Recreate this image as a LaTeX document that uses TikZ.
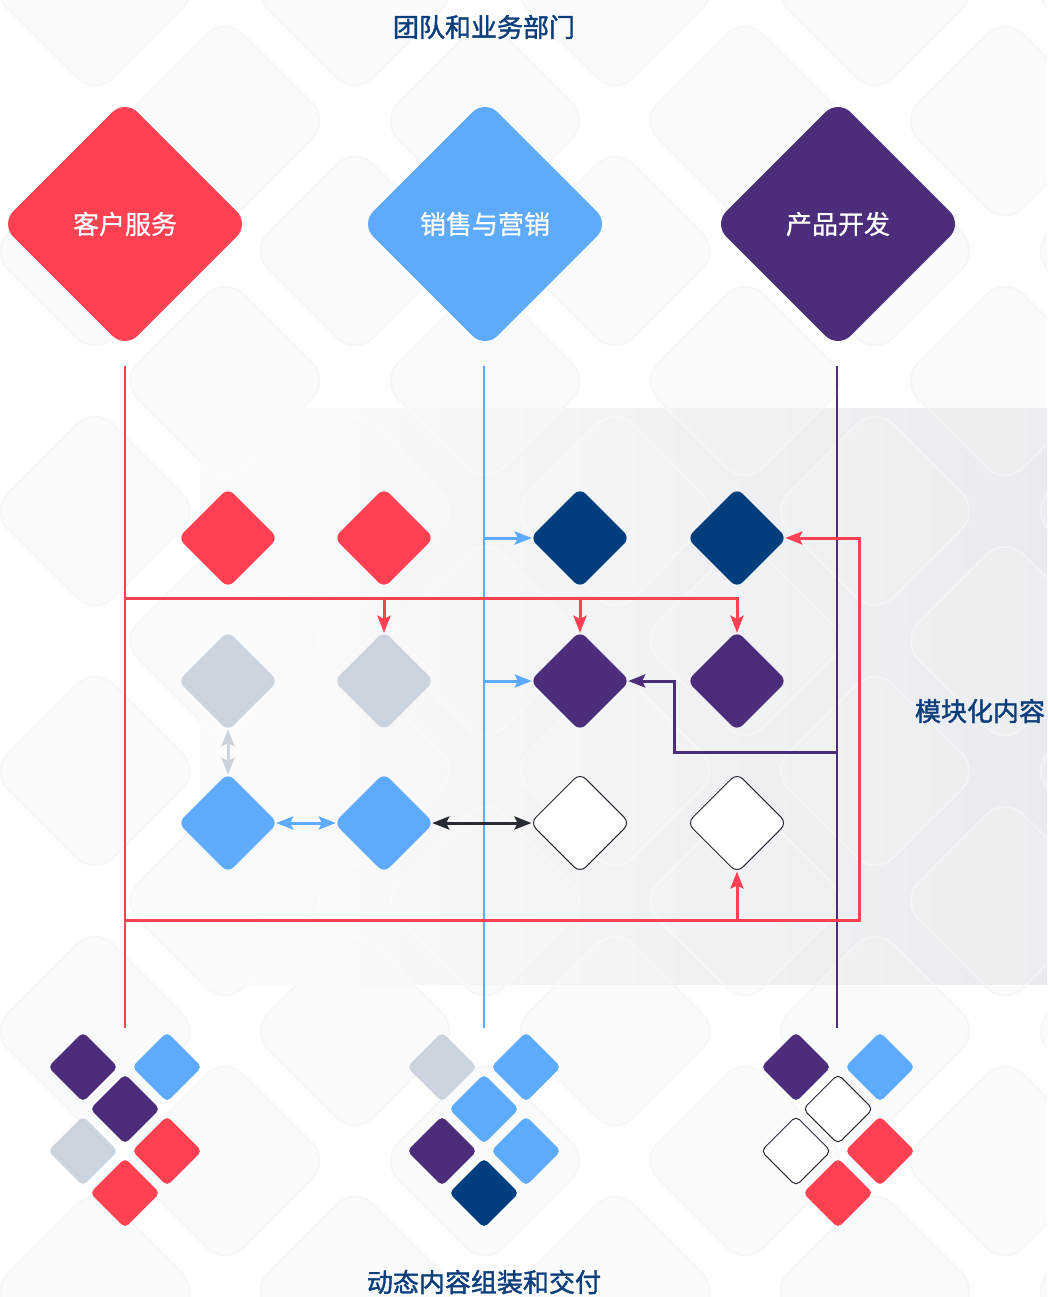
\documentclass[tikz,border=0pt]{standalone}
\usepackage{fontspec}
\newfontfamily\cjkhead[FakeBold=1.6]{Noto Sans CJK SC}
\newfontfamily\cjklab[FakeBold=0.8]{Noto Sans CJK SC}
\usetikzlibrary{shapes.geometric,arrows.meta}
\definecolor{cred}{HTML}{FF4151}
\definecolor{cblue}{HTML}{5EABFE}
\definecolor{cpurple}{HTML}{4B2D7B}
\definecolor{cnavy}{HTML}{023E7D}
\definecolor{cgray}{HTML}{CBD3DD}
\definecolor{ctext}{HTML}{0D3E7B}
\definecolor{cdark}{HTML}{252A33}
\definecolor{bgfill}{HTML}{FAFBFD}
\definecolor{bgline}{HTML}{F6F7F9}
\definecolor{bandmid}{HTML}{F4F5F7}
\definecolor{bandright}{HTML}{E8EBF0}
\begin{document}
\begin{tikzpicture}[x=1pt,y=-1pt,
  >={Stealth[length=17pt,width=13pt,inset=3pt]},
  bigdia/.style={shape=diamond, aspect=1, inner sep=0pt, minimum size=249pt,
    rounded corners=18pt, text=white, font=\cjklab\fontsize{26}{30}\selectfont},
  smalldia/.style={shape=diamond, aspect=1, inner sep=0pt, minimum size=100pt, rounded corners=8pt},
  tinydia/.style={shape=diamond, aspect=1, inner sep=0pt, minimum size=70pt, rounded corners=5pt},
  hollow/.style={fill=white, draw=cdark, line width=1pt},
  heading/.style={text=ctext, font=\cjkhead\fontsize{26}{30}\selectfont},
  bgdia/.style={fill=bgfill, draw=bgline, line width=2pt, rounded corners=26pt},
  banddia/.style={draw=white, draw opacity=0.35, line width=2pt, fill=white, fill opacity=0.14, rounded corners=26pt},
  rline/.style={draw=cred, line width=3pt},
  bline/.style={draw=cblue, line width=3pt},
  pline/.style={draw=cpurple, line width=3pt},
  kline/.style={draw=cdark, line width=3pt},
  gline/.style={draw=cgray, line width=3pt},
]
\useasboundingbox (0,0) rectangle (1047,1297);
\clip (0,0) rectangle (1047,1297);
\fill[white] (0,0) rectangle (1047,1297);

% faint background lattice
\foreach \j in {0,...,10}{
  \pgfmathtruncatemacro\off{mod(\j,2)*130}
  \foreach \i in {0,...,4}{
    \path[bgdia] ({95+\off+260*\i},{-9+130*\j-105}) -- ++(105,105) -- ++(-105,105) -- ++(-105,-105) -- cycle;
  }
}

% band of modular content (gradient made of strips)
\foreach \k in {0,...,35}{
  \pgfmathtruncatemacro\pc{100*(\k/35)^1.5}
  \fill[bandmid!\pc!bgfill] ({200+8*\k},408) rectangle ({208.6+8*\k},985);
}
\foreach \k in {0,...,70}{
  \pgfmathtruncatemacro\pc{100*\k/70}
  \fill[bandright!\pc!bandmid] ({484+8*\k},408) rectangle ({492.6+8*\k},985);
}
\begin{scope}
  \clip (200,408) rectangle (1047,985);
  \foreach \j in {3,...,8}{
    \pgfmathtruncatemacro\off{mod(\j,2)*130}
    \foreach \i in {0,...,4}{
      \path[banddia] ({95+\off+260*\i},{-9+130*\j-105}) -- ++(105,105) -- ++(-105,105) -- ++(-105,-105) -- cycle;
    }
  }
\end{scope}

% headings
\node[heading] (t1) at (484,27) {团队和业务部门};
\node[heading] (t2) at (980,711) {模块化内容};
\node[heading] (t3) at (484,1282) {动态内容组装和交付};

% departments
\node[bigdia, fill=cred] (cs) at (125,224) {客户服务};
\node[bigdia, fill=cblue] (sm) at (485,224) {销售与营销};
\node[bigdia, fill=cpurple] (pd) at (838,224) {产品开发};

% lane lines
\coordinate (rtop) at (125,366); \coordinate (rbot) at (125,1028);
\coordinate (btop) at (484,366); \coordinate (bbot) at (484,1028);
\coordinate (ptop) at (837,366); \coordinate (pbot) at (837,1028);
\draw[rline, line width=2.7pt] (rtop) -- (rbot);
\draw[bline, line width=2.7pt] (btop) -- (bbot);
\draw[pline, line width=2.7pt] (ptop) -- (pbot);

% modular content diamonds
\node[smalldia, fill=cred] (d11) at (228,538) {};
\node[smalldia, fill=cred] (d12) at (384,538) {};
\node[smalldia, fill=cnavy] (d13) at (580,538) {};
\node[smalldia, fill=cnavy] (d14) at (737,538) {};
\node[smalldia, fill=cgray] (d21) at (228,681) {};
\node[smalldia, fill=cgray] (d22) at (384,681) {};
\node[smalldia, fill=cpurple] (d23) at (580,681) {};
\node[smalldia, fill=cpurple] (d24) at (737,681) {};
\node[smalldia, fill=cblue] (d31) at (228,823) {};
\node[smalldia, fill=cblue] (d32) at (384,823) {};
\node[smalldia, hollow] (d33) at (580,823) {};
\node[smalldia, hollow] (d34) at (737,823) {};

% connectors
\coordinate (rj1) at (125,598);
\coordinate (rj3) at (125,920);
\coordinate (rc) at (859,920);
\coordinate (pj) at (837,752);
\coordinate (pk) at (674,752);

\draw[rline, ->, shorten >=-2pt] (rj1) -- (d24.north |- rj1) -- (d24.north);
\draw[rline, ->, shorten >=-2pt] (d22.north |- rj1) -- (d22.north);
\draw[rline, ->, shorten >=-2pt] (d23.north |- rj1) -- (d23.north);
\draw[rline, ->, shorten >=-2pt] (rj3) -- (rc) -- (rc |- d14.east) -- (d14.east);
\draw[rline, ->, shorten >=-2pt] (d34.south |- rj3) -- (d34.south);
\draw[pline, ->, shorten >=-2pt] (pj) -- (pk) -- (pk |- d23.east) -- (d23.east);
\draw[bline, ->, shorten >=-2pt] (btop |- d13.west) -- (d13.west);
\draw[bline, ->, shorten >=-2pt] (btop |- d23.west) -- (d23.west);
\draw[kline, <->, shorten >=-2pt, shorten <=-2pt] (d32.east) -- (d33.west);
\draw[bline, <->, shorten >=-2pt, shorten <=-2pt] (d31.east) -- (d32.west);
\draw[gline, <->, shorten >=-2pt, shorten <=-2pt] (d21.south) -- (d31.north);

% assembled delivery clusters
\node[tinydia, fill=cpurple] (a1) at (83,1067) {};
\node[tinydia, fill=cblue]   (a2) at (167,1067) {};
\node[tinydia, fill=cpurple] (a3) at (125,1109) {};
\node[tinydia, fill=cgray]   (a4) at (83,1151) {};
\node[tinydia, fill=cred]    (a5) at (167,1151) {};
\node[tinydia, fill=cred]    (a6) at (125,1193) {};

\node[tinydia, fill=cgray]   (b1) at (442,1067) {};
\node[tinydia, fill=cblue]   (b2) at (526,1067) {};
\node[tinydia, fill=cblue]   (b3) at (484,1109) {};
\node[tinydia, fill=cpurple] (b4) at (442,1151) {};
\node[tinydia, fill=cblue]   (b5) at (526,1151) {};
\node[tinydia, fill=cnavy]   (b6) at (484,1193) {};

\node[tinydia, fill=cpurple] (c1) at (796,1067) {};
\node[tinydia, fill=cblue]   (c2) at (880,1067) {};
\node[tinydia, hollow]       (c3) at (838,1109) {};
\node[tinydia, hollow]       (c4) at (796,1151) {};
\node[tinydia, fill=cred]    (c5) at (880,1151) {};
\node[tinydia, fill=cred]    (c6) at (838,1193) {};
\end{tikzpicture}
\end{document}
